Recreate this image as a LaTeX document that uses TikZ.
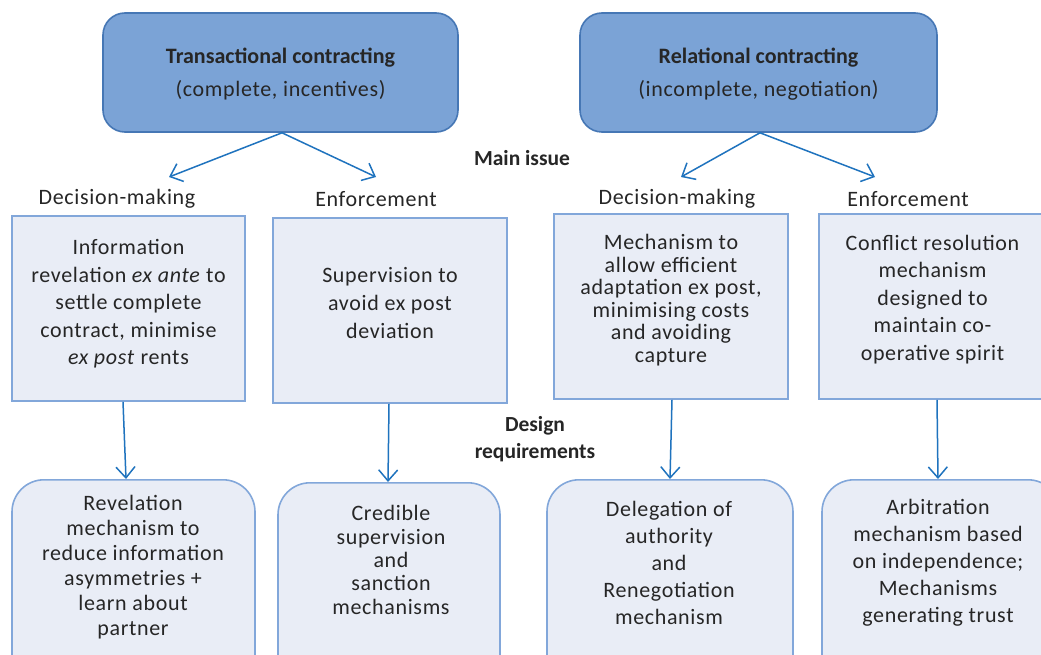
\documentclass[tikz,border=0pt]{standalone}
\usepackage{fontspec}
\setmainfont{Carlito}
\newfontfamily\spacedfont[LetterSpace=3]{Carlito}
\usetikzlibrary{arrows.meta}
\definecolor{topfill}{HTML}{7BA3D6}
\definecolor{topdraw}{HTML}{4677B5}
\definecolor{boxfill}{HTML}{E9EDF6}
\definecolor{boxdraw}{HTML}{82A7DA}
\definecolor{arrcol}{HTML}{1F73BE}
\definecolor{txt}{HTML}{262626}
\begin{document}
\begin{tikzpicture}[x=1pt,y=-1pt,
  topbox/.style={draw=topdraw, fill=topfill, line width=1.6pt, rounded corners=22pt, inner sep=0pt},
  midbox/.style={draw=boxdraw, fill=boxfill, line width=1.6pt, inner sep=0pt},
  botbox/.style={draw=boxdraw, fill=boxfill, line width=1.6pt, rounded corners=32pt, inner sep=0pt},
  body/.style={font=\spacedfont\fontsize{22}{#1}\selectfont, text=txt, align=center, inner sep=0pt},
  body/.default=27.5,
  head/.style={font=\fontsize{21.5}{27}\selectfont\bfseries, text=txt, align=center, inner sep=0pt},
  lbl/.style={font=\spacedfont\fontsize{22}{26}\selectfont, text=txt, inner sep=0pt},
  arr/.style={draw=arrcol, line width=1.5pt, -{Straight Barb[length=11pt,width=19pt,line width=1.5pt]}}]
\useasboundingbox (0,0) rectangle (1041,655);
\clip (0,0) rectangle (1041,655);
\fill[white] (0,0) rectangle (1041,655);

% top boxes
\node[topbox, minimum width=355pt, minimum height=119pt] (t1) at (280.5,72.5) {};
\node[topbox, minimum width=357pt, minimum height=119pt] (t2) at (758.5,72.5) {};
\node[body=33] (t1t) at (280.5,74.5) {{\rmfamily\bfseries\fontsize{22}{33}\selectfont Transactional contracting}\\(complete, incentives)};
\node[body=33] (t2t) at (758.5,74.5) {{\rmfamily\bfseries\fontsize{22}{33}\selectfont Relational contracting}\\(incomplete, negotiation)};

% labels
\node[head] (main) at (522,158) {Main issue};
\node[head] (design) at (535,439) {Design\\requirements};
\node[lbl] (l1) at (117,199) {Decision-making};
\node[lbl] (l2) at (376,199) {Enforcement};
\node[lbl] (l3) at (677,199) {Decision-making};
\node[lbl] (l4) at (908,199) {Enforcement};

% arrow ends
\coordinate (a1) at (169,177);
\coordinate (a2) at (376,177);
\coordinate (a3) at (681,177);
\coordinate (a4) at (875,177);
\draw[arr] ([xshift=1.5pt]t1.south) -- (a1);
\draw[arr] ([xshift=1.5pt]t1.south) -- (a2);
\draw[arr] ([xshift=1.5pt]t2.south) -- (a3);
\draw[arr] ([xshift=1.5pt]t2.south) -- (a4);

% middle boxes
\node[midbox, minimum width=233pt, minimum height=185pt] (m1) at (128.5,308.5) {};
\node[midbox, minimum width=234pt, minimum height=185pt] (m2) at (390,310.5) {};
\node[midbox, minimum width=234pt, minimum height=185pt] (m3) at (671,306.5) {};
\node[midbox, minimum width=233pt, minimum height=185pt] (m4) at (935.5,306.5) {};
\node[body=27.5] (m1t) at (128.5,304) {Information\\revelation \textit{ex ante} to\\settle complete\\contract, minimise\\\textit{ex post} rents};
\node[body=28] (m2t) at (390,303) {Supervision to\\avoid ex post\\deviation};
\node[body=22.5] (m3t) at (671,300) {Mechanism to\\allow efficient\\adaptation ex post,\\minimising costs\\and avoiding\\capture};
\node[body=27.5] (m4t) at (932.5,299.5) {Conflict resolution\\mechanism\\designed to\\maintain co-\\operative spirit};

% bottom boxes
\node[botbox, minimum width=243pt, minimum height=220pt, anchor=north] (b1) at (133.5,479) {};
\node[botbox, minimum width=222pt, minimum height=220pt, anchor=north] (b2) at (389,482) {};
\node[botbox, minimum width=246pt, minimum height=220pt, anchor=north] (b3) at (670,479) {};
\node[botbox, minimum width=238pt, minimum height=220pt, anchor=north] (b4) at (941,479) {};
\node[body=25] (b1t) at (133,567) {Revelation\\mechanism to\\reduce information\\asymmetries +\\learn about\\partner};
\node[body=23.3] (b2t) at (391,560) {Credible\\supervision\\and\\sanction\\mechanisms};
\node[body=27] (b3t) at (669,563) {Delegation of\\authority\\and\\Renegotiation\\mechanism};
\node[body=27] (b4t) at (938,563) {Arbitration\\mechanism based\\on independence;\\Mechanisms\\generating trust};

% vertical arrows
\draw[arr] ([xshift=-5.5pt]m1.south) -- ([xshift=-7.5pt]b1.north);
\draw[arr] ([xshift=-1pt]m2.south) -- ([xshift=-1pt]b2.north);
\draw[arr] ([xshift=1pt]m3.south) -- (b3.north);
\draw[arr] ([xshift=1.5pt]m4.south) -- ([xshift=-3pt]b4.north);
\end{tikzpicture}
\end{document}
